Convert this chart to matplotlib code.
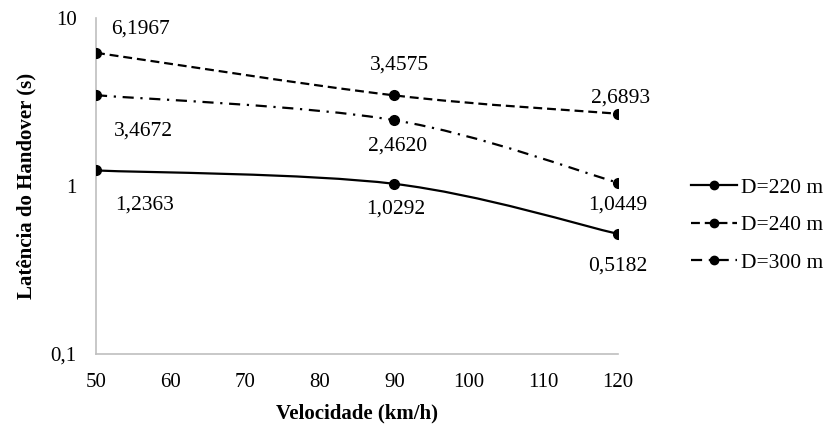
import numpy as np
import matplotlib
matplotlib.use('Agg')
import matplotlib.pyplot as plt
from matplotlib.path import Path
from matplotlib.patches import PathPatch
from matplotlib.lines import Line2D

# Data
velocidade = [50, 90, 120]
d220 = [1.2363, 1.0292, 0.5182]
d240 = [6.1967, 3.4575, 2.6893]
d300 = [3.4672, 2.4620, 1.0449]
series_names = ['D=220 m', 'D=240 m', 'D=300 m']
xticks = [50, 60, 70, 80, 90, 100, 110, 120]

plt.rcParams['font.family'] = ['Liberation Serif', 'DejaVu Serif']

fig = plt.figure(figsize=(8.32, 4.25), dpi=100)
ax = fig.add_axes([0.1154, 0.167, 0.6275, 0.791])
ax.set_yscale('log')
ax.set_xlim(50, 120)
ax.set_ylim(0.1, 10)


def smooth_path(x, y):
    # Excel-like smoothed line: cubic Bezier through points, in (x, log y) space
    x = np.asarray(x, float)
    ly = np.log10(np.asarray(y, float))
    n = len(x)
    verts = [(x[0], 10 ** ly[0])]
    codes = [Path.MOVETO]
    for i in range(n - 1):
        p0 = np.array([x[max(i - 1, 0)], ly[max(i - 1, 0)]])
        p1 = np.array([x[i], ly[i]])
        p2 = np.array([x[i + 1], ly[i + 1]])
        p3 = np.array([x[min(i + 2, n - 1)], ly[min(i + 2, n - 1)]])
        c1 = p1 + (p2 - p0) / 6.0
        c2 = p2 - (p3 - p1) / 6.0
        for c in (c1, c2, p2):
            verts.append((c[0], 10 ** c[1]))
            codes.append(Path.CURVE4)
    return Path(verts, codes)


styles = [
    dict(dashes=None),
    dict(dashes=(4, 2.2)),
    dict(dashes=(5, 3, 1, 3)),
]
all_series = [d220, d240, d300]

for vals, st in zip(all_series, styles):
    patch = PathPatch(smooth_path(velocidade, vals), facecolor='none',
                      edgecolor='black', lw=1.6, transform=ax.transData)
    if st['dashes'] is not None:
        patch.set_linestyle((0, st['dashes']))
    ax.add_patch(patch)
    ax.plot(velocidade, vals, 'o', color='black', markersize=7, zorder=3)

# Data labels (offsets in pixels)
offsets = {
    0: [(49, -35), (1, -25), (0, -32)],
    1: [(44, 24), (5, 30), (2, 16)],
    2: [(47, -36), (3, -26), (0, -22)],
}
for k, vals in enumerate(all_series):
    for j, (xv, yv) in enumerate(zip(velocidade, vals)):
        txt = f'{yv:.4f}'.replace('.', ',')
        ax.annotate(txt, (xv, yv), xytext=offsets[k][j], textcoords='offset pixels',
                    ha='center', va='center', fontsize=15.5)

# Axes styling
for side in ['top', 'right']:
    ax.spines[side].set_visible(False)
for side in ['left', 'bottom']:
    ax.spines[side].set_color('#bfbfbf')
    ax.spines[side].set_linewidth(1.2)
ax.set_xticks(xticks)
ax.set_xticklabels([str(t) for t in xticks])
ax.set_yticks([0.1, 1, 10])
ax.set_yticklabels(['0,1', '1', '10'])
ax.yaxis.set_minor_locator(matplotlib.ticker.NullLocator())
ax.tick_params(length=0, labelsize=15)
ax.tick_params(axis='x', pad=14)
ax.tick_params(axis='y', pad=14)
ax.set_xlabel('Velocidade (km/h)', fontsize=15, fontweight='bold', labelpad=8)
ax.set_ylabel('Latência do Handover (s)', fontsize=15, fontweight='bold', labelpad=10)

# Legend
handles = []
for name, st in zip(series_names, styles):
    h = Line2D([], [], color='black', lw=1.6, marker='o', markersize=6)
    if st['dashes'] is not None:
        h.set_dashes(st['dashes'])
    handles.append(h)
fig.legend(handles, series_names, loc='center left', bbox_to_anchor=(0.831, 0.47),
           frameon=False, fontsize=15.5, handlelength=2.1, labelspacing=0.8,
           handletextpad=0.2, borderaxespad=0, borderpad=0)

fig.savefig('out.png', dpi=100)
